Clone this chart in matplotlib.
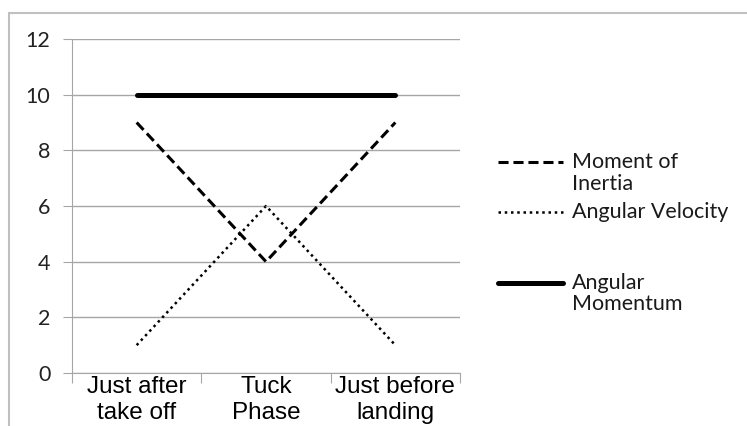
import matplotlib
matplotlib.use("Agg")
import matplotlib.pyplot as plt
from matplotlib.lines import Line2D
from matplotlib.patches import Rectangle

categories = ["Just after\ntake off", "Tuck\nPhase", "Just before\nlanding"]
moment_of_inertia = [9, 4, 9]
angular_velocity = [1, 6, 1]
angular_momentum = [10, 10, 10]
series_labels = ["Moment of\nInertia", "Angular Velocity", "Angular\nMomentum"]
yticks = [0, 2, 4, 6, 8, 10, 12]

W, H = 747, 426
fig = plt.figure(figsize=(W / 100, H / 100), dpi=100)
fig.patch.set_facecolor("white")

# outer chart border
fig.add_artist(Rectangle((9 / W, -0.1), 2, (H - 13) / H + 0.1, transform=fig.transFigure,
                         fill=False, edgecolor="#c0c0c0", linewidth=1.5))

x0, x1, ytop, ybot = 72, 460, 39, 373
ax = fig.add_axes([x0 / W, (H - ybot) / H, (x1 - x0) / W, (ybot - ytop) / H])

style_mom = dict(lw=3.6, solid_capstyle="round")
style_moi = dict(lw=2.2, linestyle=(0, (3.3, 1.6)))
style_av = dict(lw=1.8, linestyle=(0, (1, 1.5)))

xs = list(range(len(categories)))
ax.plot(xs, angular_momentum, color="black", zorder=3, **style_mom)
ax.plot(xs, moment_of_inertia, color="black", zorder=3, **style_moi)
ax.plot(xs, angular_velocity, color="black", zorder=3, **style_av)

ax.set_xlim(-0.5, 2.5)
ax.set_ylim(0, 12)
ax.set_yticks(yticks)
ax.yaxis.grid(True, color="#a6a6a6", linewidth=1)
ax.set_axisbelow(True)
for s in ["top", "right"]:
    ax.spines[s].set_visible(False)
ax.spines["left"].set_color("#a6a6a6")
ax.spines["bottom"].set_color("#a6a6a6")
ax.tick_params(axis="y", length=6.5, color="#a6a6a6", labelsize=15.5, pad=9,
               labelcolor="#222222")
for lab in ax.get_yticklabels():
    lab.set_fontfamily("Lato")

ax.set_xticks([-0.5, 0.5, 1.5, 2.5])
ax.set_xticklabels([])
ax.tick_params(axis="x", length=7, color="#a6a6a6")
ax.set_xticks(xs, minor=True)
ax.set_xticklabels(categories, minor=True, fontsize=17.5, fontfamily="Liberation Sans",
                   linespacing=1.24)
ax.tick_params(axis="x", which="minor", length=0, pad=2)

# legend (manual)
def fy(y):
    return (H - y) / H

entries = [(162, style_moi, series_labels[0]),
           (212, style_av, series_labels[1]),
           (283, style_mom, series_labels[2])]
for yy, style, lab in entries:
    fig.add_artist(Line2D([498 / W, 563 / W], [fy(yy), fy(yy)], color="black",
                          transform=fig.transFigure, **style))
    for i, line in enumerate(lab.split("\n")):
        fig.text(572 / W, fy(yy + i * 21.5), line, fontsize=15.5, fontfamily="Lato",
                 va="center", ha="left", color="#1a1a1a")

fig.savefig("out.png", dpi=100)
